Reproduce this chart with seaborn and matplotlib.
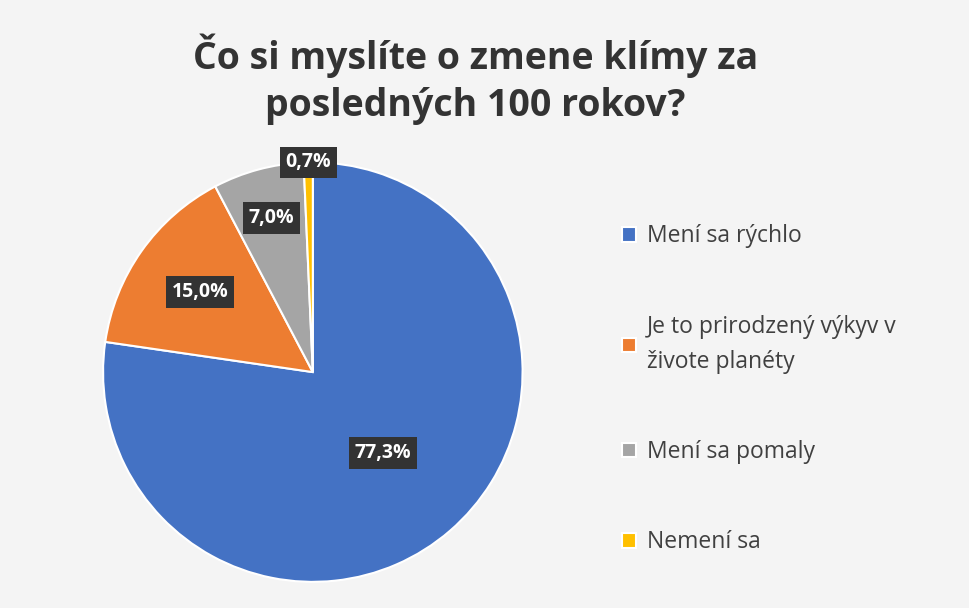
import matplotlib
matplotlib.use("Agg")
import matplotlib.pyplot as plt
import seaborn as sns
import numpy as np

categories = ["Mení sa rýchlo", "Je to prirodzený výkyv v\nživote planéty", "Mení sa pomaly", "Nemení sa"]
values = [77.3, 15.0, 7.0, 0.7]
labels = ["77,3%", "15,0%", "7,0%", "0,7%"]
colors = ["#4472C4", "#ED7D31", "#A5A5A5", "#FFC000"]
label_dist = [0.51, 0.66, 0.76, 1.0]

sns.set_theme(style="white", font="Open Sans")
fig = plt.figure(figsize=(9.7, 6.08), dpi=100)
fig.patch.set_facecolor("#f4f4f4")
ax = fig.add_axes([0.106, 0.043, 0.433, 0.69])
wedges, _ = ax.pie(values, colors=colors, startangle=90, counterclock=False,
                   wedgeprops=dict(edgecolor="white", linewidth=1.5))
ax.set_xlim(-1.0, 1.0)
ax.set_ylim(-1.0, 1.0)
ax.set_aspect("equal")
for w, lab, d in zip(wedges, labels, label_dist):
    ang = np.deg2rad((w.theta1 + w.theta2) / 2)
    ax.text(d * np.cos(ang), d * np.sin(ang), lab, ha="center", va="center",
            color="white", fontsize=14, fontweight="bold", zorder=5,
            bbox=dict(boxstyle="square,pad=0.3", facecolor="#333333", edgecolor="none"))
fig.text(0.49, 0.87, "Čo si myslíte o zmene klímy za\nposledných 100 rokov?", ha="center", va="center",
         fontsize=27, fontweight="bold", color="#333333", linespacing=1.3)
leg = ax.legend(wedges, categories, loc="upper left", bbox_to_anchor=(0.62, 0.665),
          bbox_transform=fig.transFigure, frameon=False, fontsize=16.5, labelspacing=2.9,
          handlelength=0.6, handleheight=0.6, handletextpad=0.5, labelcolor="#404040")
for t in leg.get_texts():
    t.set_linespacing(1.6)
fig.savefig("out.png", dpi=100, facecolor=fig.get_facecolor())
